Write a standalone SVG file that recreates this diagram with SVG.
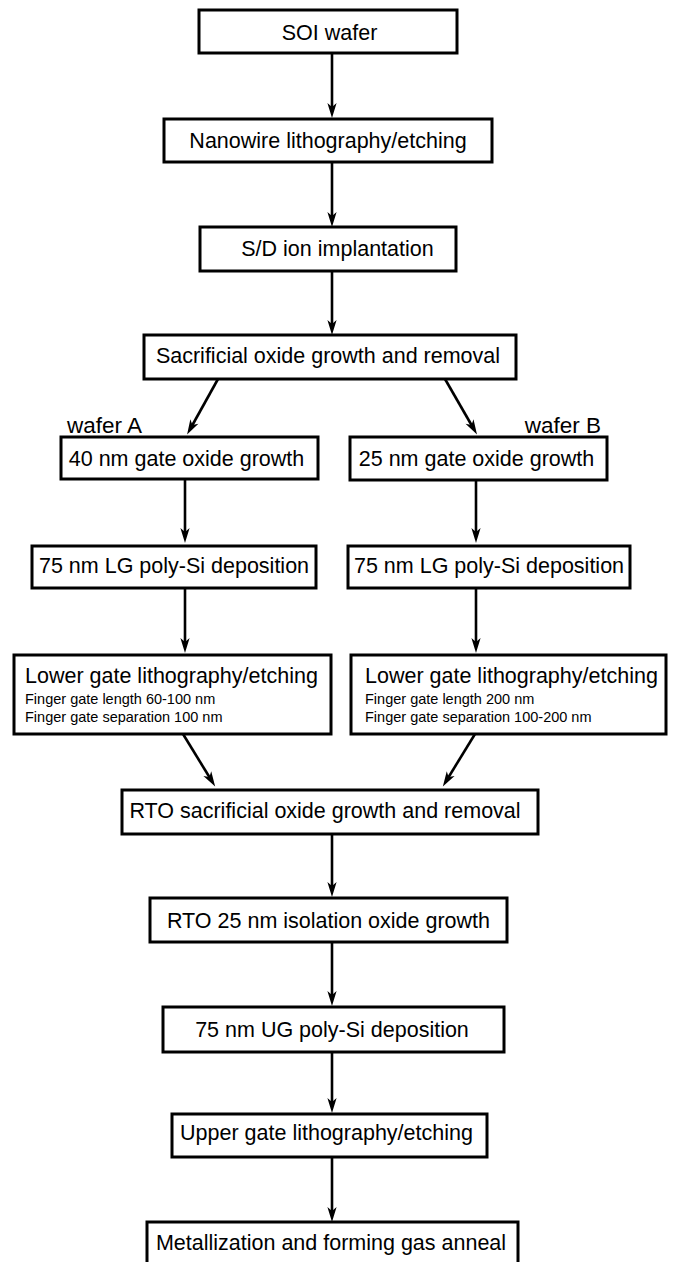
<svg xmlns="http://www.w3.org/2000/svg" width="678" height="1262" viewBox="0 0 678 1262">
<style>
.box{fill:#fff;stroke:#000;stroke-width:3}
.t{font-family:"Liberation Sans",Arial,sans-serif;font-size:21.5px;fill:#000}
.c{text-anchor:middle}
.s{font-family:"Liberation Sans",Arial,sans-serif;font-size:14.5px;fill:#000}
.lab{font-family:"Liberation Sans",Arial,sans-serif;font-size:22.5px;fill:#000}
.con line{stroke:#000;stroke-width:2.6;marker-end:url(#ah)}
</style>
<defs>
<marker id="ah" markerUnits="userSpaceOnUse" markerWidth="20" markerHeight="14" viewBox="0 -7 16 14" refX="8" refY="0" orient="auto">
<path d="M15,0 L0,-4.6 L4,0 L0,4.6 Z" fill="#000"/>
</marker>
</defs>
<rect width="678" height="1262" fill="#fff"/>
<g class="con">
<line x1="332" y1="53" x2="332" y2="111"/>
<line x1="332" y1="162" x2="332" y2="220"/>
<line x1="332" y1="271" x2="332" y2="328"/>
<line x1="218" y1="379" x2="190.5" y2="428.5"/>
<line x1="445" y1="379" x2="473.5" y2="428.5"/>
<line x1="185" y1="479" x2="185" y2="536"/>
<line x1="476" y1="480" x2="476" y2="536"/>
<line x1="185" y1="588" x2="185" y2="646"/>
<line x1="476" y1="588" x2="476" y2="646"/>
<line x1="183" y1="734" x2="211.5" y2="780.5"/>
<line x1="475" y1="734" x2="446.5" y2="780.5"/>
<line x1="332" y1="834" x2="332" y2="890"/>
<line x1="332" y1="942" x2="332" y2="999"/>
<line x1="332" y1="1052" x2="332" y2="1106"/>
<line x1="332" y1="1157" x2="332" y2="1215"/>
</g>
<g id="n1"><rect class="box" x="199" y="10" width="258" height="43"/><text class="t c" x="329.5" y="40">SOI wafer</text></g>
<g id="n2"><rect class="box" x="164" y="119" width="328" height="43"/><text class="t c" x="328" y="148">Nanowire lithography/etching</text></g>
<g id="n3"><rect class="box" x="200" y="227" width="256" height="44"/><text class="t c" x="337.5" y="256">S/D ion implantation</text></g>
<g id="n4"><rect class="box" x="144" y="335" width="372" height="44"/><text class="t c" x="328" y="363">Sacrificial oxide growth and removal</text></g>
<g id="labA"><text class="lab" x="67" y="433">wafer A</text></g>
<g id="labB"><text class="lab" x="601" y="433" text-anchor="end">wafer B</text></g>
<g id="a1"><rect class="box" x="61" y="437" width="257" height="42"/><text class="t c" x="186.5" y="466">40 nm gate oxide growth</text></g>
<g id="b1"><rect class="box" x="350" y="437" width="257" height="43"/><text class="t c" x="476.5" y="466">25 nm gate oxide growth</text></g>
<g id="a2"><rect class="box" x="32" y="546" width="284" height="42"/><text class="t c" x="174" y="573">75 nm LG poly-Si deposition</text></g>
<g id="b2"><rect class="box" x="348" y="546" width="282" height="42"/><text class="t c" x="489" y="573">75 nm LG poly-Si deposition</text></g>
<g id="a3"><rect class="box" x="14" y="655" width="317" height="79"/><text class="t" x="25" y="683">Lower gate lithography/etching</text><text class="s" x="25" y="704">Finger gate length 60-100 nm</text><text class="s" x="25" y="722">Finger gate separation 100 nm</text></g>
<g id="b3"><rect class="box" x="351" y="655" width="315" height="79"/><text class="t" x="365" y="683">Lower gate lithography/etching</text><text class="s" x="365" y="704">Finger gate length 200 nm</text><text class="s" x="365" y="722">Finger gate separation 100-200 nm</text></g>
<g id="n5"><rect class="box" x="122" y="790" width="416" height="44"/><text class="t c" x="325" y="818">RTO sacrificial oxide growth and removal</text></g>
<g id="n6"><rect class="box" x="150" y="898" width="357" height="44"/><text class="t c" x="328.5" y="928">RTO 25 nm isolation oxide growth</text></g>
<g id="n7"><rect class="box" x="163" y="1007" width="341" height="45"/><text class="t c" x="332" y="1037">75 nm UG poly-Si deposition</text></g>
<g id="n8"><rect class="box" x="172" y="1114" width="315" height="43"/><text class="t c" x="326.5" y="1140">Upper gate lithography/etching</text></g>
<g id="n9"><rect class="box" x="147" y="1222" width="371" height="46"/><text class="t c" x="331" y="1250">Metallization and forming gas anneal</text></g>
</svg>
